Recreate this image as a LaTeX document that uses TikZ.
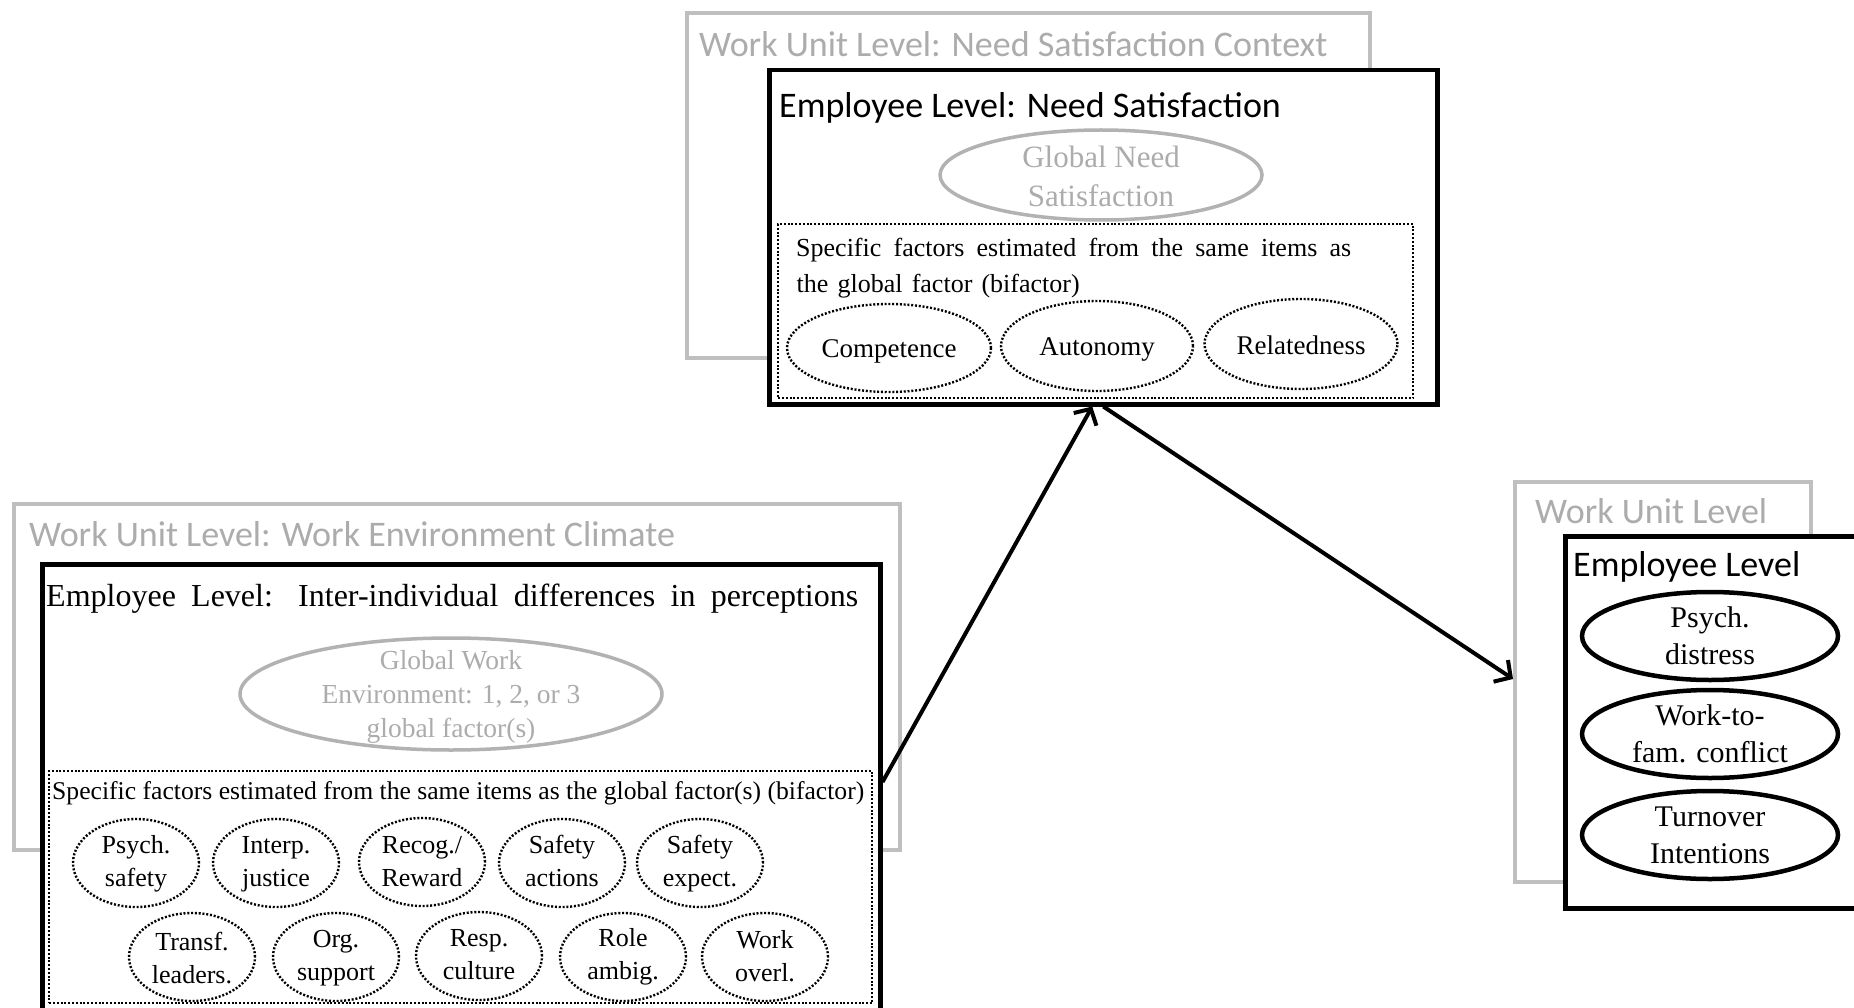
\documentclass[tikz,border=0pt]{standalone}
\usepackage{fontspec}
\setmainfont{Liberation Serif}
\newfontfamily\calfont{Carlito}
\usetikzlibrary{shapes.geometric,arrows.meta,calc}
\definecolor{boxgray}{RGB}{191,191,191}
\definecolor{txtgray}{RGB}{172,172,172}
\definecolor{ellgray}{RGB}{178,178,178}
\newcommand\fsz[2]{\fontsize{#1}{#2}\selectfont}
\begin{document}
\begin{tikzpicture}[x=1pt,y=-1pt,
  graybox/.style={draw=boxgray, line width=4pt, fill=white, rectangle, inner sep=0pt, anchor=north west},
  blackbox/.style={draw=black, line width=4.5pt, fill=white, rectangle, inner sep=0pt, anchor=north west},
  dotbox/.style={draw=black, line width=2.2pt, dash pattern=on 2pt off 1.8pt, rectangle, inner sep=0pt, anchor=north west},
  sanstitle/.style={font=\calfont\fsz{36}{40}, anchor=base west, inner sep=0pt},
  serifline/.style={anchor=base west, inner sep=0pt},
  globell/.style={draw=ellgray, line width=3.5pt, ellipse, inner sep=0pt},
  dotell/.style={draw=black, line width=2.4pt, dash pattern=on 2pt off 1.8pt, ellipse, inner sep=0pt},
  solell/.style={draw=black, line width=4.5pt, ellipse, inner sep=0pt, minimum width=256pt, minimum height=88pt},
  smallell/.style={dotell, minimum width=126pt, minimum height=88pt},
  etext/.style={inner sep=0pt, align=center},
  arr/.style={line width=4pt, -{Straight Barb[length=12pt,width=26pt,line width=4pt]}}
]
\useasboundingbox (0,0) rectangle (1854,1008);
\clip (0,0) rectangle (1854,1008);

% ---------- top group ----------
\node[graybox, minimum width=683pt, minimum height=345pt] (grayT) at (684.5,11) {};
\node[sanstitle, text=txtgray] (grayTtitle) at (699,57) {Work Unit Level: Need Satisfaction Context};
\node[blackbox, minimum width=668pt, minimum height=334pt] (blackT) at (767,68) {};
\node[sanstitle] (blackTtitle) at (779,118) {Employee Level: Need Satisfaction};
\node[globell, minimum width=322pt, minimum height=90pt] (globN) at (1101,175) {};
\node[etext, text=txtgray, font=\fsz{31}{39}] (globNt) at (1101,176) {Global Need\\Satisfaction};
\node[dotbox, minimum width=635pt, minimum height=174pt] (dotT) at (777,223) {};
\node[serifline, font=\fsz{26}{35}] (specT1) at (796,257) {\makebox[555pt][s]{Specific factors estimated from the same items as}};
\node[serifline, font=\fsz{26}{35}] (specT2) at (796,292) {\makebox[0pt][l]{\makebox[283pt][s]{the global factor (bifactor)}}};
\node[dotell, minimum width=204pt, minimum height=88pt] (comp) at (889,348) {};
\node[etext, font=\fsz{27}{32}] (compt) at (889,351) {Competence};
\node[dotell, minimum width=192pt, minimum height=90pt] (auto) at (1097,346) {};
\node[etext, font=\fsz{27}{32}] (autot) at (1097,350) {Autonomy};
\node[dotell, minimum width=193pt, minimum height=90pt] (rel) at (1301,344) {};
\node[etext, font=\fsz{27}{32}] (relt) at (1301,345) {Relatedness};

% ---------- left group ----------
\node[graybox, minimum width=886pt, minimum height=346pt] (grayL) at (11.5,501.5) {};
\node[sanstitle, text=txtgray] (grayLtitle) at (29,546) {Work Unit Level: Work Environment Climate};
\node[blackbox, minimum width=838pt, minimum height=520pt] (blackL) at (40,562) {};
\node[serifline, font=\fsz{32}{36}] (blackLtitle) at (46,606) {\makebox[812pt][s]{Employee Level: Inter-individual differences in perceptions}};
\node[globell, minimum width=422pt, minimum height=112pt] (globW) at (451,694) {};
\node[etext, text=txtgray, font=\fsz{27.5}{34}] (globWt) at (451,697) {Global Work\\Environment: 1, 2, or 3\\global factor(s)};
\node[dotbox, minimum width=823pt, minimum height=232pt] (dotL) at (48,770) {};
\node[serifline, font=\fsz{25}{30}] (specL) at (52,799) {\resizebox{812pt}{18pt}{Specific factors estimated from the same items as the global factor(s) (bifactor)}};

\node[smallell] (c1) at (136,863) {};
\node[etext, font=\fsz{26}{33}] (c1t) at (136,864) {Psych.\\safety};
\node[smallell] (c2) at (276,863) {};
\node[etext, font=\fsz{26}{33}] (c2t) at (276,864) {Interp.\\justice};
\node[smallell] (c3) at (422,862) {};
\node[etext, font=\fsz{26}{33}] (c3t) at (422,862) {Recog./\\Reward};
\node[smallell] (c4) at (562,863) {};
\node[etext, font=\fsz{26}{33}] (c4t) at (562,861) {Safety\\actions};
\node[smallell] (c5) at (700,863) {};
\node[etext, font=\fsz{26}{33}] (c5t) at (700,864) {Safety\\expect.};

\node[smallell] (d1) at (192,957) {};
\node[etext, font=\fsz{26}{33}] (d1t) at (192,958) {Transf.\\leaders.};
\node[smallell] (d2) at (336,957) {};
\node[etext, font=\fsz{26}{33}] (d2t) at (336,958) {Org.\\support};
\node[smallell] (d3) at (479,956) {};
\node[etext, font=\fsz{26}{33}] (d3t) at (479,955) {Resp.\\culture};
\node[smallell] (d4) at (623,957) {};
\node[etext, font=\fsz{26}{33}] (d4t) at (623,957) {Role\\ambig.};
\node[smallell] (d5) at (765,957) {};
\node[etext, font=\fsz{26}{33}] (d5t) at (765,956) {Work\\overl.};

% ---------- right group ----------
\node[graybox, minimum width=296pt, minimum height=400pt] (grayR) at (1513,480) {};
\node[sanstitle, text=txtgray] (grayRtitle) at (1535,523) {Work Unit Level};
\node[blackbox, minimum width=330pt, minimum height=372pt] (blackR) at (1563,534) {};
\node[sanstitle] (blackRtitle) at (1573,576) {Employee Level};
\node[solell] (o1) at (1710,636) {};
\node[etext, font=\fsz{30}{37}] (o1t) at (1710,636) {Psych.\\distress};
\node[solell] (o2) at (1710,734) {};
\node[etext, font=\fsz{30}{37}] (o2t) at (1710,734) {Work-to-\\fam. conflict};
\node[solell] (o3) at (1710,835) {};
\node[etext, font=\fsz{30}{37}] (o3t) at (1710,835) {Turnover\\Intentions};

% ---------- connectors ----------
\draw[arr] ([yshift=-220pt]blackL.north east) -- ([xshift=-11pt]blackT.south);
\draw[arr] (blackT.south) -- ([yshift=3pt]grayR.west);
\end{tikzpicture}
\end{document}
